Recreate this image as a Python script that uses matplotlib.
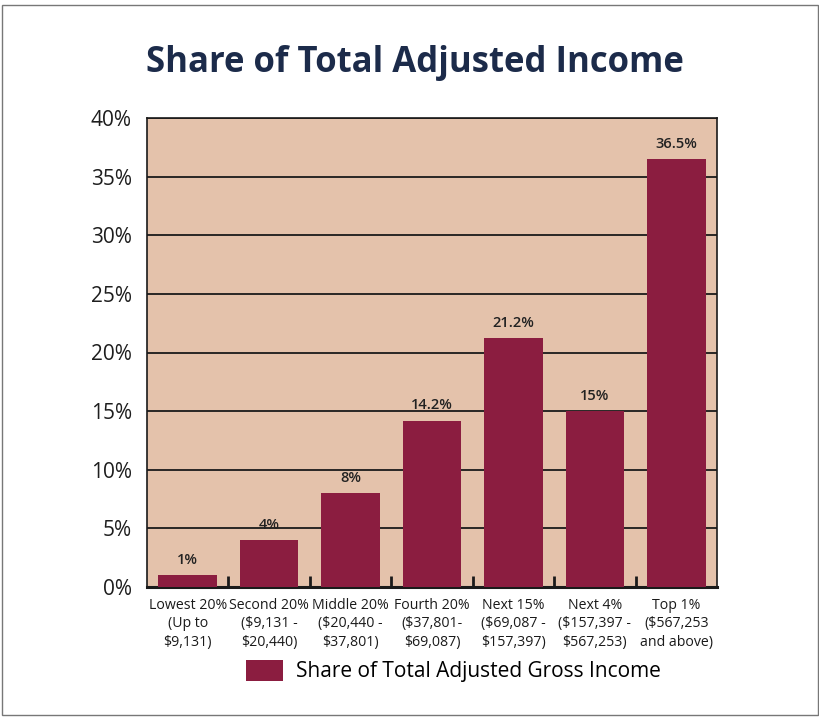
import numpy as np
import matplotlib.pyplot as plt
from matplotlib.patches import Patch, Rectangle

plt.rcParams['font.family'] = ['Open Sans', 'DejaVu Sans']

groups = ['Lowest 20%\n(Up to\n$9,131)', 'Second 20%\n($9,131 -\n$20,440)',
          'Middle 20%\n($20,440 -\n$37,801)', 'Fourth 20%\n($37,801-\n$69,087)',
          'Next 15%\n($69,087 -\n$157,397)', 'Next 4%\n($157,397 -\n$567,253)',
          'Top 1%\n($567,253\nand above)']
share = [1, 4, 8, 14.2, 21.2, 15, 36.5]
share_labels = ['1%', '4%', '8%', '14.2%', '21.2%', '15%', '36.5%']
yticks = [0, 5, 10, 15, 20, 25, 30, 35, 40]

bar_color = '#8b1d40'
panel_color = '#e4c2ab'
title_color = '#1c2b4a'

fig = plt.figure(figsize=(8.2, 7.17), dpi=100)
ax = fig.add_axes([147 / 820, 1 - 587 / 717, 570 / 820, 469 / 717])
ax.set_facecolor(panel_color)

x = np.arange(len(share))
ax.bar(x, share, width=0.72, color=bar_color, zorder=3)
for xi, v, lab in zip(x, share, share_labels):
    ax.text(xi, v + 0.7, lab, ha='center', va='bottom', fontsize=10.5,
            fontweight='semibold', color='#222222', zorder=4)

ax.set_xlim(-0.5, len(share) - 0.5)
ax.set_ylim(0, 40)
ax.set_yticks(yticks)
ax.set_yticklabels([f'{t}%' for t in yticks], fontsize=15, color='#1e1e1e')
ax.tick_params(axis='y', length=0, pad=11)
ax.yaxis.grid(True, color='#1a1a1a', linewidth=1.3, zorder=1)
ax.set_axisbelow(True)

# group labels centred under bars, tick marks between groups
ax.set_xticks(x)
ax.set_xticklabels(groups, fontsize=10.2, color='#1a1a1a', linespacing=1.3)
ax.tick_params(axis='x', length=0, pad=8)
for b in x[:-1] + 0.5:
    ax.plot([b, b], [0, 0.9], color='#1a1a1a', linewidth=2, zorder=4,
            solid_capstyle='butt')

for side in ['left', 'right', 'top']:
    ax.spines[side].set_linewidth(1.2)
    ax.spines[side].set_color('#1a1a1a')
ax.spines['bottom'].set_linewidth(2.2)
ax.spines['bottom'].set_color('#1a1a1a')

fig.text(415 / 820, 1 - 63 / 717, 'Share of Total Adjusted Income',
         ha='center', va='center', fontsize=25, fontweight='bold',
         color=title_color)

fig.legend(handles=[Patch(facecolor=bar_color,
                          label='Share of Total Adjusted Gross Income')],
           loc='center', bbox_to_anchor=(453 / 820, 1 - 671 / 717),
           frameon=False, fontsize=15, handlelength=1.8, handleheight=1.2,
           handletextpad=0.6)

# thin page frame
fig.patches.append(Rectangle((0.003, 0.003), 0.994, 0.99, transform=fig.transFigure,
                             fill=False, edgecolor='#777777', linewidth=1))

fig.savefig('out.png', dpi=100)
